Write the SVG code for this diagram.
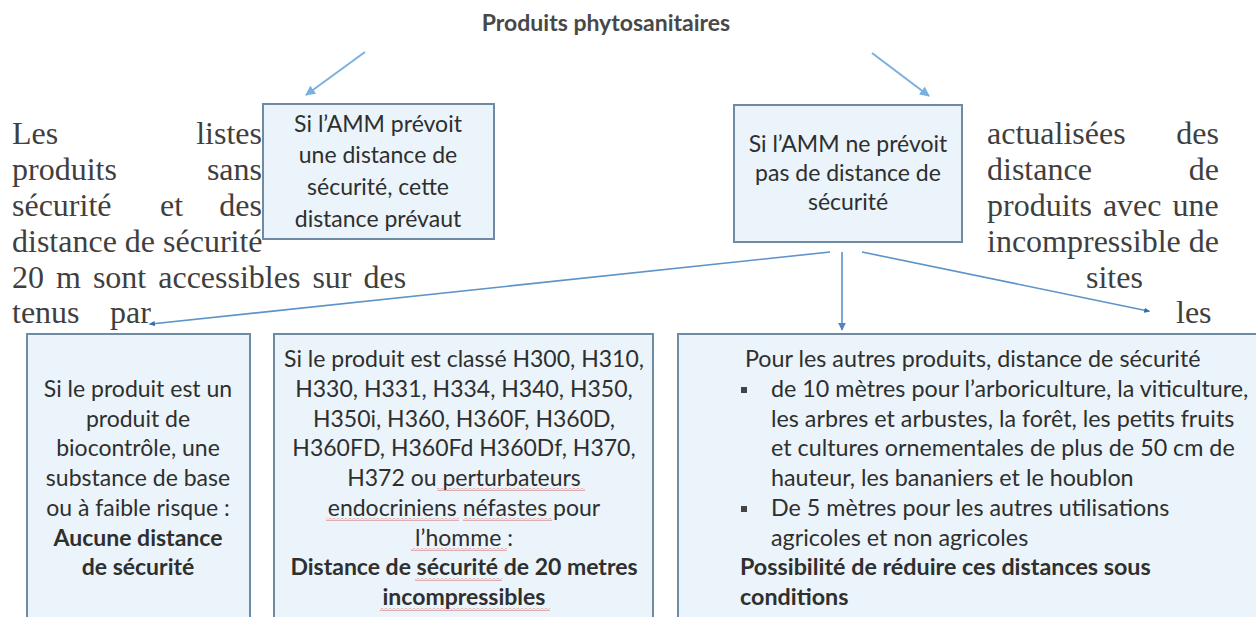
<svg xmlns="http://www.w3.org/2000/svg" width="1256" height="617" viewBox="0 0 1256 617">
<defs>
<style>
.serif{font-family:"Liberation Serif","Times New Roman",serif;font-size:32px;fill:#3f3f3f}
.box{fill:#eaf4fa;stroke:#6f8aa3;stroke-width:2}
.t{font-family:Lato,"Liberation Sans",sans-serif;font-size:23px;fill:#2f2f2f;text-anchor:middle}
.tl{font-family:Lato,"Liberation Sans",sans-serif;font-size:23.3px;fill:#2f2f2f}
.b{font-weight:bold}
.title{font-family:Lato,"Liberation Sans",sans-serif;font-size:23px;font-weight:bold;fill:#484848;text-anchor:middle}
.arr{stroke:#7ab0e0;stroke-width:2;fill:none}
.con{stroke:#5d93c9;stroke-width:1.6;fill:none}
</style>
<marker id="ah" viewBox="0 0 10 10" refX="9" refY="5" markerWidth="5" markerHeight="5" orient="auto" markerUnits="strokeWidth">
<path d="M0,0 L10,5 L0,10 z" fill="#7ab0e0"/>
</marker>
<marker id="ah2" viewBox="0 0 10 10" refX="9" refY="5" markerWidth="5" markerHeight="5" orient="auto" markerUnits="strokeWidth">
<path d="M0,0 L10,5 L0,10 z" fill="#4f86c0"/>
</marker>
<marker id="dot" viewBox="0 0 10 10" refX="6" refY="5" markerWidth="4" markerHeight="4" orient="auto" markerUnits="strokeWidth">
<path d="M0,1 L10,5 L0,9 z" fill="#2f6fb3"/>
</marker>
<pattern id="wavy" width="4" height="3" patternUnits="userSpaceOnUse">
<path d="M0,0.5 L2,2.5 L4,0.5" stroke="#d04040" stroke-width="0.8" fill="none"/>
</pattern>
</defs>
<rect width="1256" height="617" fill="#ffffff"/>

<g id="background-text" class="serif">
<text x="12" y="144">Les</text><text x="262" y="144" text-anchor="end">listes</text>
<text x="12" y="180">produits</text><text x="262" y="180" text-anchor="end">sans</text>
<text x="12" y="216">sécurité</text><text x="160" y="216">et</text><text x="262" y="216" text-anchor="end">des</text>
<text x="12" y="252">distance de sécurité</text>
<text x="12" y="288" word-spacing="4">20 m sont accessibles sur des</text>
<text x="12" y="323">tenus</text><text x="110" y="323">par</text>
<text x="987" y="144">actualisées</text><text x="1219" y="144" text-anchor="end">des</text>
<text x="987" y="180">distance</text><text x="1219" y="180" text-anchor="end">de</text>
<text x="987" y="216" word-spacing="3">produits avec une</text>
<text x="987" y="252">incompressible de</text>
<text x="1086" y="288">sites</text>
<text x="1176" y="323">les</text>
</g>

<g id="title">
<text class="title" x="606" y="31">Produits phytosanitaires</text>
</g>

<g id="box-amm-prevoit">
<rect class="box" x="263" y="104" width="231" height="135"/>
<text class="t" x="378" y="132">Si l’AMM prévoit</text>
<text class="t" x="378" y="163">une distance de</text>
<text class="t" x="378" y="195">sécurité, cette</text>
<text class="t" x="378" y="227">distance prévaut</text>
</g>

<g id="box-amm-ne-prevoit">
<rect class="box" x="734" y="105" width="228" height="137"/>
<text class="t" x="848" y="152">Si l’AMM ne prévoit</text>
<text class="t" x="848" y="181">pas de distance de</text>
<text class="t" x="848" y="210">sécurité</text>
</g>

<g id="box-biocontrole">
<rect class="box" x="27" y="334" width="223" height="300"/>
<text class="t" x="138" y="397">Si le produit est un</text>
<text class="t" x="138" y="426.5">produit de</text>
<text class="t" x="138" y="456">biocontrôle, une</text>
<text class="t" x="138" y="486">substance de base</text>
<text class="t" x="138" y="516">ou à faible risque :</text>
<text class="t b" x="138" y="546">Aucune distance</text>
<text class="t b" x="138" y="575">de sécurité</text>
</g>

<g id="box-h-classes">
<rect class="box" x="274" y="334" width="379" height="300"/>
<text class="t" x="464" y="367">Si le produit est classé H300, H310,</text>
<text class="t" x="464" y="396.5">H330, H331, H334, H340, H350,</text>
<text class="t" x="464" y="426.5">H350i, H360, H360F, H360D,</text>
<text class="t" x="464" y="456">H360FD, H360Fd H360Df, H370,</text>
<text class="t" x="464" y="486">H372 ou perturbateurs</text>
<text class="t" x="464" y="516">endocriniens néfastes pour</text>
<text class="t" x="464" y="545.5">l’homme :</text>
<text class="t b" x="464" y="575">Distance de sécurité de 20 metres</text>
<text class="t b" x="464" y="605">incompressibles</text>
<rect x="437" y="488" width="148" height="3" fill="url(#wavy)"/>
<rect x="326" y="518" width="133" height="3" fill="url(#wavy)"/>
<rect x="463" y="518" width="89" height="3" fill="url(#wavy)"/>
<rect x="411" y="548" width="96" height="3" fill="url(#wavy)"/>
<rect x="415" y="578" width="87" height="3" fill="url(#wavy)"/>
<rect x="380" y="608" width="170" height="3" fill="url(#wavy)"/>
</g>

<g id="box-autres">
<rect class="box" x="678" y="334" width="590" height="300"/>
<text class="tl" x="745" y="367">Pour les autres produits, distance de sécurité</text>
<rect x="741" y="387" width="6" height="6" fill="#444"/>
<text class="tl" x="771" y="396.5">de 10 mètres pour l’arboriculture, la viticulture,</text>
<text class="tl" x="771" y="426.5">les arbres et arbustes, la forêt, les petits fruits</text>
<text class="tl" x="771" y="456">et cultures ornementales de plus de 50 cm de</text>
<text class="tl" x="771" y="486">hauteur, les bananiers et le houblon</text>
<rect x="741" y="506" width="6" height="6" fill="#444"/>
<text class="tl" x="771" y="516">De 5 mètres pour les autres utilisations</text>
<text class="tl" x="771" y="545.5">agricoles et non agricoles</text>
<text class="tl b" x="740" y="575">Possibilité de réduire ces distances sous</text>
<text class="tl b" x="740" y="605">conditions</text>
</g>

<g id="connectors">
<line class="arr" x1="365" y1="52" x2="306" y2="95" marker-end="url(#ah)"/>
<line class="arr" x1="872" y1="53" x2="929" y2="96" marker-end="url(#ah)"/>
<line class="con" x1="830" y1="252" x2="151" y2="324" marker-end="url(#dot)"/>
<line class="con" x1="842" y1="252" x2="842" y2="330" marker-end="url(#ah2)"/>
<line class="con" x1="862" y1="252" x2="1148" y2="311" marker-end="url(#dot)"/>
</g>
</svg>
